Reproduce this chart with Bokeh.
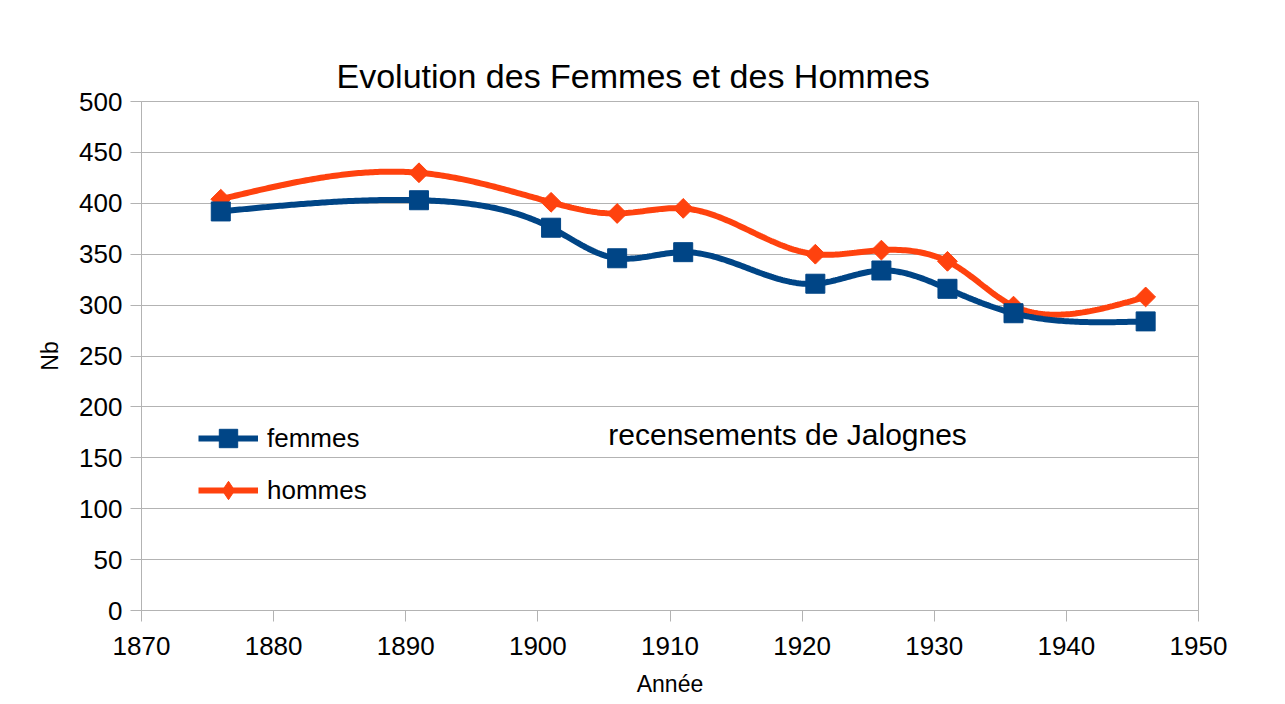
import numpy as np
from bokeh.plotting import figure
from bokeh.models import Range1d, Label, Legend, LegendItem, FixedTicker
from bokeh.embed import file_html
from bokeh.resources import INLINE

# ---- data ----
years = [1876, 1891, 1901, 1906, 1911, 1921, 1926, 1931, 1936, 1946]
femmes = [392, 403, 376, 346, 352, 321, 334, 316, 292, 284]
hommes = [404, 430, 401, 390, 395, 350, 354, 343, 299, 308]
x_ticks = [1870, 1880, 1890, 1900, 1910, 1920, 1930, 1940, 1950]
y_ticks = [0, 50, 100, 150, 200, 250, 300, 350, 400, 450, 500]

title_text = "Evolution des Femmes et des Hommes"
note_text = "recensements de Jalognes"

FONT = "Liberation Sans"
BLUE = "#004586"
ORANGE = "#ff420e"
GRAY = "#b3b3b3"

# frame geometry (pixels)
W, H = 1277, 704
FL, FR, FT, FB = 141, 1198, 101, 610
X0, X1, Y0, Y1 = 1870, 1950, 0, 500
SX = (FR - FL) / (X1 - X0)
SY = (FB - FT) / (Y1 - Y0)


def nat_spline(t, v, tt):
    n = len(t)
    h = np.diff(t)
    A = np.zeros((n, n))
    r = np.zeros(n)
    A[0, 0] = 1
    A[-1, -1] = 1
    for i in range(1, n - 1):
        A[i, i - 1] = h[i - 1]
        A[i, i] = 2 * (h[i - 1] + h[i])
        A[i, i + 1] = h[i]
        r[i] = 6 * ((v[i + 1] - v[i]) / h[i] - (v[i] - v[i - 1]) / h[i - 1])
    M = np.linalg.solve(A, r)
    out = np.empty_like(tt)
    idx = np.clip(np.searchsorted(t, tt, side="right") - 1, 0, n - 2)
    for k, (s, i) in enumerate(zip(tt, idx)):
        hi = h[i]
        out[k] = (M[i] * (t[i + 1] - s) ** 3 / (6 * hi)
                  + M[i + 1] * (s - t[i]) ** 3 / (6 * hi)
                  + (v[i] / hi - M[i] * hi / 6) * (t[i + 1] - s)
                  + (v[i + 1] / hi - M[i + 1] * hi / 6) * (s - t[i]))
    return out


def smooth(x, y, num=400):
    """Parametric cubic-spline smoothing of the line (rendering style only)."""
    px = (np.asarray(x, float) - X0) * SX
    py = np.asarray(y, float) * SY
    t = np.concatenate([[0], np.cumsum(np.hypot(np.diff(px), np.diff(py)))])
    tt = np.linspace(0, t[-1], num)
    sx = nat_spline(t, px, tt)
    sy = nat_spline(t, py, tt)
    return (sx / SX + X0).tolist(), (sy / SY).tolist()


p = figure(width=W, height=H, output_backend="svg", toolbar_location=None,
           x_range=Range1d(X0, X1), y_range=Range1d(Y0, Y1),
           min_border_left=FL, min_border_right=W - FR,
           min_border_top=FT, min_border_bottom=H - FB)
p.background_fill_color = "white"
p.border_fill_color = "white"
p.outline_line_color = GRAY
p.outline_line_width = 1

p.title.text = title_text
p.title.text_font = FONT
p.title.text_font_size = "34px"
p.title.text_font_style = "normal"
p.title.text_color = "black"
p.title.align = "left"
p.title.offset = 195
p.title.standoff = 13

p.xgrid.visible = False
p.ygrid.grid_line_color = GRAY
p.ygrid.ticker = FixedTicker(ticks=y_ticks)

for ax in (p.xaxis[0], p.yaxis[0]):
    ax.axis_line_color = GRAY
    ax.major_tick_line_color = GRAY
    ax.minor_tick_line_color = None
    ax.major_tick_in = 0
    ax.major_tick_out = 11
    ax.major_label_text_font = FONT
    ax.major_label_text_font_size = "26px"
    ax.major_label_text_color = "black"
    ax.axis_label_text_font = FONT
    ax.axis_label_text_font_size = "23px"
    ax.axis_label_text_font_style = "normal"
    ax.axis_label_text_color = "black"

p.xaxis.ticker = FixedTicker(ticks=x_ticks)
p.yaxis.ticker = FixedTicker(ticks=y_ticks)
p.xaxis.axis_label = "Année"
p.yaxis.axis_label = "Nb"
p.xaxis.major_label_standoff = 15
p.yaxis.major_label_standoff = 8
p.xaxis.axis_label_standoff = 13
p.yaxis.axis_label_standoff = 13

# hommes (drawn first, below)
hx, hy = smooth(years, hommes)
h_line = p.line(hx, hy, line_color=ORANGE, line_width=6)
# diamond used for the legend symbol (hidden under the plotted markers)
h_diam = p.scatter(years, hommes, marker="diamond", size=18,
                   fill_color=ORANGE, line_color=ORANGE)
h_mark = p.scatter(years, hommes, marker="square", angle=np.pi / 4, size=14,
                   fill_color=ORANGE, line_color=ORANGE)
# femmes
fx, fy = smooth(years, femmes)
f_line = p.line(fx, fy, line_color=BLUE, line_width=6)
f_mark = p.scatter(years, femmes, marker="square", size=19,
                   fill_color=BLUE, line_color=BLUE)

legend = Legend(items=[LegendItem(label="femmes", renderers=[f_line, f_mark]),
                       LegendItem(label="hommes", renderers=[h_line, h_diam])],
                location=(57, 97), orientation="vertical",
                glyph_width=60, glyph_height=46, label_height=46, spacing=6,
                label_standoff=9, padding=0, margin=0,
                border_line_color=None, background_fill_alpha=0,
                label_text_font=FONT, label_text_font_size="26px",
                label_text_color="black")
p.add_layout(legend, "center")

p.add_layout(Label(x=1918.9, y=173, text=note_text, text_font=FONT,
                   text_font_size="30px", text_align="center",
                   text_baseline="middle", text_color="black"))

open("out.html", "w").write(file_html(p, INLINE))
